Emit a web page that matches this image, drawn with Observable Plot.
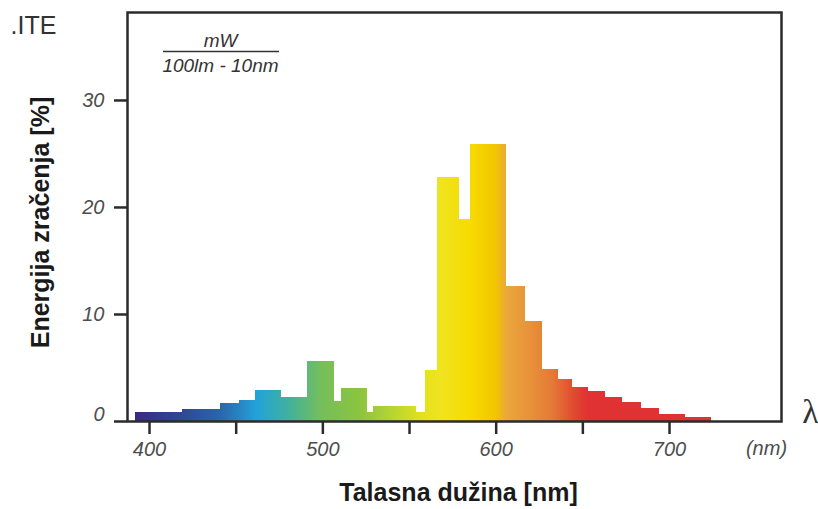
<!DOCTYPE html>
<html><head><meta charset="utf-8">
<script src="https://cdn.jsdelivr.net/npm/d3@7"></script>
<script src="https://cdn.jsdelivr.net/npm/@observablehq/plot@0.6"></script>
<style>
html,body{margin:0;padding:0;background:#fff;}
</style>
</head><body><div id="chart"></div>
<script>
// Spectral bins (nm) and energy values (%)
const binStart = [392, 419, 441, 452, 461, 476, 491, 507, 511, 526, 529, 554, 559, 566, 579, 585, 606, 617, 627, 636, 644, 653, 663, 673, 684, 694, 709];
const binEnd   = [419, 441, 452, 461, 476, 491, 507, 511, 526, 529, 554, 559, 566, 579, 585, 606, 617, 627, 636, 644, 653, 663, 673, 684, 694, 709, 724];
const energy   = [0.8, 1.1, 1.65, 1.95, 2.9, 2.25, 5.6, 1.9, 3.1, 0.85, 1.4, 0.85, 4.8, 22.8, 18.85, 25.9, 12.6, 9.35, 4.9, 3.9, 3.2, 2.85, 2.25, 1.75, 1.2, 0.7, 0.4];

const xTicks = [400, 450, 500, 550, 600, 650, 700];
const xTickLabels = [400, 500, 600, 700];
const yTicks = [0, 10, 20, 30];
const yTickLabelsUpper = [10, 20, 30];
const yTickLabelZero = [0];

const titleText = ".ITE";
const unitTop = "mW";
const unitBottom = "100lm - 10nm";
const yLabel = "Energija zračenja [%]";
const xLabel = "Talasna dužina [nm]";
const xUnit = "(nm)";
const lambdaSymbol = "λ";

// spectrum gradient stops (wavelength -> colour)
const spectrumNm    = [392, 418, 441, 462, 480, 499, 522, 543, 558, 568, 585, 600, 606, 620, 633, 645, 653, 724];
const spectrumColor = ["#3b2a82", "#2d4894", "#2a66ab", "#22a2d9", "#3fb19f", "#75be5c", "#8cc43e", "#bdd72e", "#e4e11c", "#f0e31f", "#f6dc00", "#f2c500", "#eaa83a", "#e8913a", "#e47935", "#e04a30", "#e03232", "#e03232"];

const data = binStart.map((s, i) => ({x1: s, x2: binEnd[i], y: energy[i]}));

const ink = "#2b2b2b";
const tickInk = "#4d4d4d";

const plot = Plot.plot({
  width: 818,
  height: 509,
  marginLeft: 127,
  marginRight: 37,
  marginTop: 12,
  marginBottom: 88,
  x: {domain: [387.3, 764.6]},
  y: {domain: [0, 38.22]},
  style: {fontFamily: "'Liberation Sans', Arial, sans-serif", background: "white", overflow: "visible"},
  marks: [
    Plot.rectY(data, {x1: "x1", x2: "x2", y1: 0, y2: "y", fill: "url(#spectrum)", insetLeft: 0, insetRight: 0, shapeRendering: "crispEdges"}),
    Plot.frame({stroke: ink, strokeWidth: 2.5}),
    Plot.axisX({ticks: xTicks, tickSize: 13, stroke: ink, strokeWidth: 2.5, tickFormat: () => "", label: null}),
    Plot.axisX({ticks: xTickLabels, tickSize: 0, tickPadding: 20, fontSize: 20, fontStyle: "italic", fill: tickInk, label: null}),
    Plot.axisY({ticks: yTicks, tickSize: 13, stroke: ink, strokeWidth: 2.5, tickFormat: () => "", label: null}),
    Plot.axisY({ticks: yTickLabelsUpper, tickSize: 0, tickPadding: 23, fontSize: 20, fontStyle: "italic", fill: tickInk, label: null}),
    Plot.axisY({ticks: yTickLabelZero, tickSize: 0, tickPadding: 23, dy: -7, fontSize: 20, fontStyle: "italic", fill: tickInk, label: null}),
    Plot.text([titleText], {frameAnchor: "top-left", textAnchor: "start", lineAnchor: "middle", dx: -117, dy: 13, fontSize: 25, fill: "#333"}),
    Plot.text([unitTop], {frameAnchor: "top-left", textAnchor: "middle", lineAnchor: "middle", dx: 93, dy: 28, fontSize: 19, fontStyle: "italic", fill: "#333"}),
    Plot.text([unitBottom], {frameAnchor: "top-left", textAnchor: "middle", lineAnchor: "middle", dx: 93, dy: 53, fontSize: 19, fontStyle: "italic", fill: "#333"}),
    Plot.text([yLabel], {frameAnchor: "left", rotate: -90, textAnchor: "middle", lineAnchor: "middle", dx: -87, dy: 5.5, fontSize: 25, fontWeight: "bold", fill: "#1a1a1a"}),
    Plot.text([xLabel], {frameAnchor: "bottom", textAnchor: "middle", lineAnchor: "middle", dx: 4, dy: 71, fontSize: 25, fontWeight: "bold", fill: "#1a1a1a"}),
    Plot.text([xUnit], {frameAnchor: "bottom-right", textAnchor: "middle", lineAnchor: "middle", dx: -15, dy: 27, fontSize: 20, fontStyle: "italic", fill: tickInk}),
    Plot.text([lambdaSymbol], {frameAnchor: "bottom-right", textAnchor: "middle", lineAnchor: "middle", dx: 29, dy: -9, fontSize: 34, fontFamily: "'Liberation Serif', 'DejaVu Serif', serif", fill: "#333"})
  ]
});

// horizontal spectrum gradient positioned through the x scale
const xs = plot.scale("x");
const svg = d3.select(plot.tagName.toLowerCase() === "svg" ? plot : plot.querySelector("svg"));
const gx1 = xs.apply(spectrumNm[0]);
const gx2 = xs.apply(spectrumNm[spectrumNm.length - 1]);
const grad = svg.insert("defs", ":first-child")
  .append("linearGradient")
  .attr("id", "spectrum")
  .attr("gradientUnits", "userSpaceOnUse")
  .attr("x1", gx1).attr("x2", gx2).attr("y1", 0).attr("y2", 0);
spectrumNm.forEach((nm, i) => {
  grad.append("stop")
    .attr("offset", (xs.apply(nm) - gx1) / (gx2 - gx1))
    .attr("stop-color", spectrumColor[i]);
});

// fraction bar of the unit label
svg.append("line")
  .attr("x1", 163).attr("x2", 279)
  .attr("y1", 51.5).attr("y2", 51.5)
  .attr("stroke", "#333").attr("stroke-width", 1.3);

document.getElementById("chart").appendChild(plot);
</script>
</body></html>
